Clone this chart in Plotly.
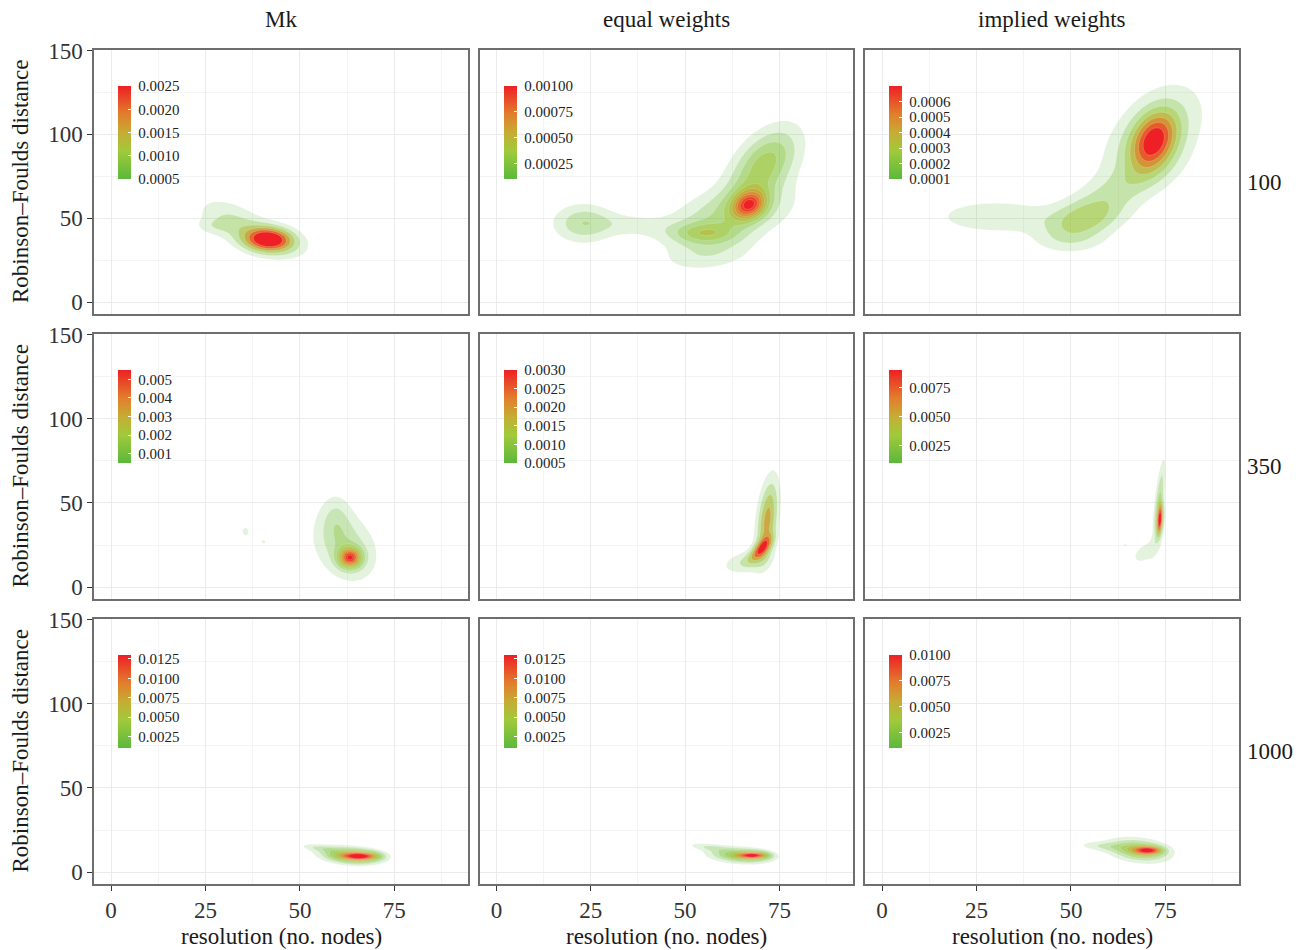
import numpy as np
import plotly.graph_objects as go

# ---------------- data ----------------
col_labels = ["Mk", "equal weights", "implied weights"]
row_labels = ["100", "350", "1000"]
x_tick_vals = [0, 25, 50, 75]
x_minor_vals = [12.5, 37.5, 62.5, 87.5]
y_tick_vals = [0, 50, 100, 150]
y_minor_vals = [25, 75, 125]
x_title = "resolution (no. nodes)"
y_title = "Robinson\u2013Foulds distance"

# density components:
# (x centre, y centre, sd x, sd y, shear dx/dy, peak density)
comp_mk_100 = [(41.8, 37.5, 4.2, 4.8, 0.0, 0.0019),
               (42.0, 36.5, 6.5, 7.5, -0.3, 0.0013),
               (31.0, 51.0, 6.0, 9.0, -0.3, 0.0008),
               (26.5, 45.0, 3.5, 3.5, 0.0, 0.0004)]
comp_ew_100 = [(67.0, 58.0, 3.0, 6.0, 0.1, 0.0007),
               (71.0, 82.0, 5.5, 15.0, 0.2, 0.00045),
               (55.0, 41.0, 6.0, 4.5, 0.0, 0.0003),
               (62.0, 52.0, 10.0, 12.0, 0.35, 0.0003),
               (56.0, 28.0, 8.0, 7.0, 0.3, 0.00016),
               (23.0, 47.0, 5.5, 8.0, 0.0, 0.00028),
               (36.0, 46.0, 7.0, 5.0, -0.2, 0.00012)]
comp_iw_100 = [(72.0, 96.0, 4.0, 12.0, 0.1, 0.00055),
               (71.5, 97.0, 8.0, 22.0, 0.2, 0.00027),
               (54.0, 49.0, 6.5, 8.5, 0.3, 0.0003),
               (50.0, 36.0, 7.0, 6.0, 0.0, 0.00011),
               (30.0, 51.0, 11.0, 7.0, 0.0, 0.00019),
               (61.0, 66.0, 7.0, 12.0, 0.6, 0.00014)]
comp_mk_350 = [(63.3, 17.5, 2.0, 4.0, 0.0, 0.0045),
               (62.0, 24.0, 5.5, 14.0, -0.1, 0.0014),
               (59.5, 42.0, 2.8, 10.0, 0.0, 0.0007),
               (35.6, 33.0, 0.7, 2.0, 0.0, 0.0009),
               (40.4, 27.0, 0.5, 1.2, 0.0, 0.00075)]
comp_ew_350 = [(70.2, 23.0, 1.5, 5.0, 0.3, 0.0020),
               (71.8, 40.0, 1.9, 17.0, 0.05, 0.0022),
               (66.0, 15.0, 4.0, 5.0, 0.3, 0.0010)]
comp_iw_350 = [(73.6, 40.0, 0.6, 6.0, 0.03, 0.0095),
               (73.4, 52.0, 0.8, 16.0, 0.05, 0.0030),
               (70.0, 21.0, 2.5, 5.5, 0.3, 0.0016),
               (64.4, 25.2, 0.45, 1.3, 0.0, 0.0012),
               (39.3, 30.0, 0.3, 0.8, 0.0, 0.0011)]
comp_mk_1000 = [(66.0, 9.5, 3.3, 2.0, 0.0, 0.0110),
                (63.0, 10.0, 4.8, 3.3, -0.4, 0.0058),
                (55.0, 14.5, 3.0, 1.7, -1.0, 0.0016)]
comp_ew_1000 = [(68.0, 10.0, 2.6, 1.6, 0.0, 0.0110),
                (64.5, 10.0, 5.0, 3.0, -0.4, 0.0052),
                (56.0, 15.0, 3.2, 1.7, -1.0, 0.0017)]
comp_iw_1000 = [(70.5, 13.0, 2.4, 1.8, 0.0, 0.0075),
                (68.0, 13.0, 5.0, 4.5, -0.3, 0.0050),
                (58.0, 15.5, 4.5, 2.0, -0.5, 0.0015)]

# contour levels: (first level, last level, step)
levels_mk_100 = (0.0005, 0.0025, 0.0004)
levels_ew_100 = (0.0001, 0.0010, 0.0001)
levels_iw_100 = (0.0001, 0.0007, 0.0001)
levels_mk_350 = (0.0005, 0.0055, 0.0005)
levels_ew_350 = (0.0005, 0.0030, 0.0005)
levels_iw_350 = (0.0010, 0.0090, 0.0010)
levels_mk_1000 = (0.0010, 0.0130, 0.0010)
levels_ew_1000 = (0.0010, 0.0130, 0.0010)
levels_iw_1000 = (0.0010, 0.0100, 0.0010)

legend_mk_100 = ["0.0005", "0.0010", "0.0015", "0.0020", "0.0025"]
legend_ew_100 = ["0.00025", "0.00050", "0.00075", "0.00100"]
legend_iw_100 = ["0.0001", "0.0002", "0.0003", "0.0004", "0.0005", "0.0006"]
legend_mk_350 = ["0.001", "0.002", "0.003", "0.004", "0.005"]
legend_ew_350 = ["0.0005", "0.0010", "0.0015", "0.0020", "0.0025", "0.0030"]
legend_iw_350 = ["0.0025", "0.0050", "0.0075"]
legend_mk_1000 = ["0.0025", "0.0050", "0.0075", "0.0100", "0.0125"]
legend_ew_1000 = ["0.0025", "0.0050", "0.0075", "0.0100", "0.0125"]
legend_iw_1000 = ["0.0025", "0.0050", "0.0075", "0.0100"]

panels = [
    [(comp_mk_100, levels_mk_100, legend_mk_100),
     (comp_ew_100, levels_ew_100, legend_ew_100),
     (comp_iw_100, levels_iw_100, legend_iw_100)],
    [(comp_mk_350, levels_mk_350, legend_mk_350),
     (comp_ew_350, levels_ew_350, legend_ew_350),
     (comp_iw_350, levels_iw_350, legend_iw_350)],
    [(comp_mk_1000, levels_mk_1000, legend_mk_1000),
     (comp_ew_1000, levels_ew_1000, legend_ew_1000),
     (comp_iw_1000, levels_iw_1000, legend_iw_1000)],
]

# ---------------- styling / layout ----------------
W, H = 1306, 950
FONT = "Liberation Serif, Times New Roman, serif"
col_px = [(94, 468), (479.5, 853), (865, 1239)]
row_px = [(50, 314), (334, 599), (619, 884)]
x_range = [-4.5, 94.5]
y_range = [-7.0, 150.3]

stops = [(0.0, (92, 184, 60)), (0.3, (160, 202, 58)), (0.5, (198, 172, 52)),
         (0.7, (226, 125, 44)), (1.0, (238, 31, 37))]


def grad(t):
    for (t0, c0), (t1, c1) in zip(stops[:-1], stops[1:]):
        if t <= t1 + 1e-12:
            f = 0 if t1 == t0 else (t - t0) / (t1 - t0)
            return tuple(c0[i] + f * (c1[i] - c0[i]) for i in range(3))
    return stops[-1][1]


legend_cs = [[t, "rgb(%d,%d,%d)" % c] for t, c in stops]


def fill_scale(n):
    cs = [[0.0, "rgba(255,255,255,0)"]]
    for k in range(n):
        t = k / (n - 1) if n > 1 else 1.0
        r, g, b = grad(t)
        a = 0.17 + 0.83 * t
        cs.append([(k + 1) / n, "rgba(%d,%d,%d,%.3f)" % (r, g, b, a)])
    return cs


def density(comps, xs, ys):
    X, Y = np.meshgrid(xs, ys)
    Z = np.zeros_like(X)
    for mx, my, sx, sy, k, a in comps:
        dy = Y - my
        dx = X - mx - k * dy
        Z += a * np.exp(-0.5 * ((dx / sx) ** 2 + (dy / sy) ** 2))
    return Z


def px2x(p):
    return p / W


def px2y(p):
    return 1 - p / H


fig = go.Figure()
layout = {}
annotations = []

for r in range(3):
    for c in range(3):
        idx = r * 3 + c + 1
        xa = "x" if idx == 1 else "x%d" % idx
        ya = "y" if idx == 1 else "y%d" % idx
        comps, (lo, hi, step), labels = panels[r][c]
        n = int(round((hi - lo) / step)) + 1

        xl = min(mx - 4.2 * sx - abs(k) * 4.2 * sy for mx, my, sx, sy, k, a in comps)
        xh = max(mx + 4.2 * sx + abs(k) * 4.2 * sy for mx, my, sx, sy, k, a in comps)
        yl = min(my - 4.2 * sy for mx, my, sx, sy, k, a in comps)
        yh = max(my + 4.2 * sy for mx, my, sx, sy, k, a in comps)
        xl, xh = max(xl, x_range[0]), min(xh, x_range[1])
        yl, yh = max(yl, y_range[0]), min(yh, y_range[1])
        xs = np.linspace(xl, xh, 260)
        ys = np.linspace(yl, yh, 260)
        Z = density(comps, xs, ys)

        fig.add_trace(go.Contour(
            x=np.round(xs, 4).tolist(), y=np.round(ys, 4).tolist(),
            z=np.round(Z, 8).tolist(),
            xaxis=xa, yaxis=ya,
            autocontour=False,
            contours=dict(start=lo, end=hi, size=step, coloring="fill", showlines=True),
            line=dict(width=0.5, color="rgba(255,255,255,0.35)", smoothing=1),
            colorscale=fill_scale(n), showscale=False, hoverinfo="skip",
        ))

        tickvals = [float(s) for s in labels]
        fig.add_trace(go.Scatter(
            x=[-50], y=[-50], xaxis=xa, yaxis=ya, mode="markers",
            hoverinfo="skip", showlegend=False,
            marker=dict(size=1, color=[lo], cmin=lo, cmax=hi, colorscale=legend_cs,
                        showscale=True,
                        colorbar=dict(
                            x=px2x(col_px[c][0] + 24), xanchor="left", xpad=0,
                            y=px2y(row_px[r][0] + 36), yanchor="top", ypad=0,
                            len=93, lenmode="pixels", thickness=13,
                            outlinewidth=0, borderwidth=0,
                            tickvals=tickvals, ticktext=["\u00a0" + s for s in labels],
                            ticks="inside", ticklen=3, tickcolor="white", tickwidth=1,
                            tickfont=dict(family=FONT, size=15, color="#222222"),
                        )),
        ))

        axis_common = dict(showline=True, mirror=True, linecolor="#6e6e6e", linewidth=1.5,
                           zeroline=False, gridcolor="#ebebeb", gridwidth=1.2,
                           tickfont=dict(family=FONT, size=23, color="#333333"),
                           tickcolor="#333333", ticklen=5, tickwidth=1)
        layout["xaxis" if idx == 1 else "xaxis%d" % idx] = dict(
            axis_common, domain=[px2x(col_px[c][0]), px2x(col_px[c][1])],
            anchor=ya, range=x_range, tickvals=x_tick_vals,
            showticklabels=(r == 2), ticks="outside" if r == 2 else "",
            minor=dict(tickvals=x_minor_vals, showgrid=True, gridcolor="#f4f4f4", gridwidth=0.7, ticks=""),
        )
        layout["yaxis" if idx == 1 else "yaxis%d" % idx] = dict(
            axis_common, domain=[px2y(row_px[r][1]), px2y(row_px[r][0])],
            anchor=xa, range=y_range, tickvals=y_tick_vals,
            showticklabels=(c == 0), ticks="outside" if c == 0 else "",
            minor=dict(tickvals=y_minor_vals, showgrid=True, gridcolor="#f4f4f4", gridwidth=0.7, ticks=""),
        )

for c in range(3):
    cx = (col_px[c][0] + col_px[c][1]) / 2
    annotations.append(dict(text=col_labels[c], x=px2x(cx), y=px2y(20), xref="paper", yref="paper",
                            showarrow=False, xanchor="center", yanchor="middle",
                            font=dict(family=FONT, size=23, color="#1a1a1a")))
    annotations.append(dict(text=x_title, x=px2x(cx), y=px2y(936), xref="paper", yref="paper",
                            showarrow=False, xanchor="center", yanchor="middle",
                            font=dict(family=FONT, size=23, color="#1a1a1a")))
for r in range(3):
    cy = (row_px[r][0] + row_px[r][1]) / 2
    annotations.append(dict(text=row_labels[r], x=px2x(1245), y=px2y(cy), xref="paper", yref="paper",
                            showarrow=False, xanchor="left", yanchor="middle",
                            font=dict(family=FONT, size=23, color="#1a1a1a")))
    annotations.append(dict(text=y_title, x=px2x(20), y=px2y(cy), xref="paper", yref="paper",
                            showarrow=False, xanchor="center", yanchor="middle", textangle=-90,
                            font=dict(family=FONT, size=23, color="#1a1a1a")))

fig.update_layout(
    width=W, height=H, margin=dict(l=0, r=0, t=0, b=0, autoexpand=False),
    paper_bgcolor="white", plot_bgcolor="white", showlegend=False,
    annotations=annotations, **layout,
)

fig.write_html("out.html", config={"displayModeBar": False},
               post_script="document.body.style.margin='0';document.body.style.overflow='hidden';")
